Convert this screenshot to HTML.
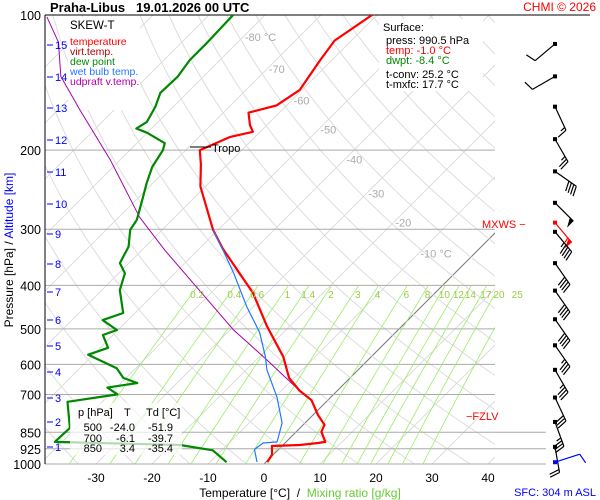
<!DOCTYPE html>
<html><head><meta charset="utf-8"><style>
html,body{margin:0;padding:0;background:#fff}
svg{display:block;font-family:"Liberation Sans",sans-serif}
</style></head><body>
<svg id="c" width="600" height="500" viewBox="0 0 600 500" xmlns="http://www.w3.org/2000/svg">
<defs><clipPath id="plot"><rect x="45" y="15" width="450" height="449"/></clipPath></defs>
<rect width="600" height="500" fill="#fff"/>
<g id="bg" clip-path="url(#plot)"></g>
<g id="iso"></g>
<g id="mix" clip-path="url(#plot)"></g>
<rect x="68" y="17" width="72" height="93" fill="#fff"/>
<g id="series" clip-path="url(#plot)"></g>
<g id="labels"></g>
<g id="barbs"></g>

<text x="50" y="12" font-size="13" font-weight="bold">Praha-Libus &#160;&#160;19.01.2026 00 UTC</text>
<text x="596" y="11" font-size="12" fill="#f00" text-anchor="end">CHMI © 2026</text>

<g font-size="10.5">
<text x="70" y="29" font-size="11.5" fill="#000">SKEW-T</text>
<text x="70" y="45" fill="#f00">temperature</text>
<text x="70" y="55" fill="#a00">virt.temp.</text>
<text x="70" y="65" fill="#080">dew point</text>
<text x="70" y="75" fill="#27f">wet bulb temp.</text>
<text x="70" y="85" fill="#a0a">udpraft v.temp.</text>
</g>

<rect x="379" y="19" width="104" height="72" fill="#fff"/>
<g font-size="11">
<text x="383" y="31">Surface:</text>
<text x="386" y="44">press: 990.5 hPa</text>
<text x="386" y="54" fill="#f00">temp: -1.0 °C</text>
<text x="386" y="64" fill="#080">dwpt: -8.4 °C</text>
<text x="386" y="78">t-conv: 25.2 °C</text>
<text x="386" y="88">t-mxfc: 17.7 °C</text>
</g>

<line x1="190" y1="147" x2="211" y2="147" stroke="#000" stroke-width="1"/>
<text x="212" y="152" font-size="11">Tropo</text>
<text x="482" y="228" font-size="11" fill="#f00">MXWS −</text>
<text x="466" y="420" font-size="11" fill="#f00">−FZLV</text>
<text x="596" y="496" font-size="11" fill="#00f" text-anchor="end">SFC: 304 m ASL</text>

<text transform="translate(13,250) rotate(-90)" font-size="12" text-anchor="middle">Pressure [hPa] <tspan>/</tspan> <tspan fill="#00f">Altitude [km]</tspan></text>
<text x="300" y="497" font-size="12" text-anchor="middle">Temperature [°C] &#160;/ &#160;<tspan fill="#6c3">Mixing ratio [g/kg]</tspan></text>
<g id="tblwrap"></g>
</svg>
<script>
// ---- data ----
const tempP = [990,954,912,907,898,893,848,818,778,721,686,643,577,495,416,331,301,241,215,200,187,182,176,165,159,147,126,114,100];
const tempT = [0.2,-0.2,-1.8,3.0,5.9,7.0,4.5,3.8,0.9,-2.9,-6.8,-10.9,-15.7,-23.9,-32.5,-45.9,-50.9,-60.9,-64.8,-67.5,-64.5,-61.3,-63,-65.5,-61.8,-60.4,-62.1,-63,-60.9];
const dewP = [991,932,907,893,831,727,700,676,660,643,612,571,551,516,503,478,461,410,376,357,328,301,286,254,237,218,200,193,183,179,173,160,149,137,126,115,100];
const dewT = [-7.0,-11.6,-18.4,-41.3,-41.1,-46.2,-38.6,-41.6,-37.1,-40.5,-43.4,-50.9,-48.6,-51.8,-50.2,-54.5,-52.1,-56.8,-58.9,-61.6,-63.0,-65.7,-66.3,-69.3,-71.1,-73.0,-74.1,-75,-80,-82.7,-82,-83.2,-84.8,-84.6,-85.4,-85.4,-85.7];
const wetP = [990,928,898,893,810,710,617,577,509,447,375,334,301];
const wetT = [-1.6,-4.3,-3.9,-1.6,-4.1,-9.6,-16.3,-18.9,-24.3,-31.1,-39.6,-45.5,-50.9];
const parcelP = [686,587,502,334,282,210,163,137,115,101];
const parcelT = [-6.8,-18.0,-29.5,-55.9,-66.3,-81.8,-96,-105.5,-112,-118.6];
const pressTicks = [100,200,300,400,500,600,700,850,925,1000];
const tempTicks = [-30,-20,-10,0,10,20,30,40];
const altTicks = [1,2,3,4,5,6,7,8,9,10,11,12,13,14,15];
const altY = [447,422,398,372,346,320,292,264,234,204,172,140,108,77,45];
const mixVals = [0.2,0.4,0.6,1,1.4,2,3,4,6,8,10,12,14,17,20,25];
const barbP = [116,137,160,189,223,262,290,304,357,411,476,544,617,711,806,916,991];
const barbDir = [230,240,155,150,125,135,140,140,145,145,145,145,150,155,160,170,72];
const barbSpd = [10,10,15,25,40,50,55,45,40,40,40,35,35,30,35,20,10];

// ---- scales ----
const NS="http://www.w3.org/2000/svg";
const Y = p => 15 + 449*Math.log10(p/100);
const X = (T,p) => 264 + 5.6*T + (464 - Y(p));
function mk(tag, attrs, parent){const e=document.createElementNS(NS,tag);for(const k in attrs)e.setAttribute(k,attrs[k]);parent.appendChild(e);return e;}
const bg=document.getElementById('bg'), iso=document.getElementById('iso'), mix=document.getElementById('mix'), ser=document.getElementById('series'), lab=document.getElementById('labels'), bar=document.getElementById('barbs');

for(let T=-160;T<=40;T+=10){
  const l=mk('line',{x1:X(T,1000),y1:Y(1000),x2:X(T,100),y2:Y(100),stroke:T===0?'#777':'#ddd','stroke-width':1},bg);
  
  
}
for(let th=230;th<=500;th+=10){
  let pts=[];for(let p=100;p<=1000;p+=10){const T=th*Math.pow(p/1000,0.286)-273.15;pts.push(X(T,p).toFixed(1)+','+Y(p).toFixed(1));}
  const l=mk('polyline',{points:pts.join(' '),fill:'none',stroke:'#ddd','stroke-width':1},bg);
  
  
}
function tdFromW(w,p){const e=w*p/(622+w);const a=Math.log(e/6.112);return 243.5*a/(17.67-a);}
mixVals.forEach(w=>{
  let pts=[];for(let p=400;p<=1000;p+=20){pts.push(X(tdFromW(w,p),p).toFixed(1)+','+Y(p).toFixed(1));}
  const l=mk('polyline',{points:pts.join(' '),fill:'none',stroke:'#9e6','stroke-width':0.8},mix);
  
  
  const t=mk('text',{x:X(tdFromW(w,400),400)-1,y:298,'font-size':10,fill:'#9c4','text-anchor':'middle'},lab);
  t.textContent=String(w);
  
  
});
pressTicks.forEach(p=>{
  const wide=p>=850;
  const l=mk('line',{x1:45,y1:Y(p),x2:wide?546:495,y2:Y(p),stroke:p===100?'#000':'#aaa','stroke-width':1},iso);
  
  
  const t=mk('text',{x:41,y:Y(p)+5,'font-size':12.5,'text-anchor':'end'},lab);
  t.textContent=p;
  
  
});
mk('line',{x1:45,y1:15,x2:590,y2:15,stroke:'#000'},iso);
const ax=mk('line',{x1:45,y1:15,x2:45,y2:464,stroke:'#000'},iso);


tempTicks.forEach(T=>{
  const t=mk('text',{x:X(T,1000),y:482,'font-size':12,'text-anchor':'middle'},lab);
  t.textContent=T;
  
  
});
[-80,-70,-60,-50,-40,-30,-20,-10].forEach((T,i)=>{
  const p=[112,132,155,180,210,250,290,340][i];
  const t=mk('text',{x:X(T,p)+2,y:Y(p)+4,'font-size':11,fill:'#aaa'},lab);
  t.textContent=(T===-80||T===-10)?T+' °C':String(T);
  
  
});
altTicks.forEach((a,i)=>{
  mk('line',{x1:47,y1:altY[i],x2:53,y2:altY[i],stroke:'#00f'},lab);
  const t=mk('text',{x:55,y:altY[i]+4,'font-size':11,fill:'#00f'},lab);
  t.textContent=a;
  
  
});
function line(P,T,color,w,name){
  const pts=P.map((p,i)=>X(T[i],p).toFixed(1)+','+Y(p).toFixed(1)).join(' ');
  const l=mk('polyline',{points:pts,fill:'none',stroke:color,'stroke-width':w,'stroke-linejoin':'round'},ser);
  
  
}
line(parcelP,parcelT,'#a0a',1,'updraft-line');
line(dewP,dewT,'#080',2.2,'dew-point-line');
line(tempP,tempT,'#f00',2.2,'temperature-line');
line(wetP,wetT,'#27f',1.2,'wet-bulb-line');

const tw=document.getElementById('tblwrap');


tw.innerHTML='<rect x="70" y="403" width="112" height="52" fill="#fff" fill-opacity="0.7"/>'+
'<g font-size="11"><text x="78" y="416">p [hPa]<tspan x="124">T</tspan><tspan x="146">Td [°C]</tspan></text>'+
'<g text-anchor="end"><text x="102" y="431">500</text><text x="135" y="431">-24.0</text><text x="173" y="431">-51.9</text>'+
'<text x="102" y="442">700</text><text x="135" y="442">-6.1</text><text x="173" y="442">-39.7</text>'+
'<text x="102" y="452">850</text><text x="135" y="452">3.4</text><text x="173" y="452">-35.4</text></g></g>';

barbP.forEach((p,i)=>{
  const y0=Y(p),x0=555,red=(i===6),blue=(i===barbP.length-1);
  const col=red?'#f00':(blue?'#00f':'#000');
  const a=barbDir[i]*Math.PI/180, L=26;
  const dx=Math.sin(a),dy=-Math.cos(a);
  const x1=x0+L*dx,y1=y0+L*dy;
  const g=mk('g',{},bar);
  
  
  mk('rect',{x:x0-2,y:y0-2,width:4,height:4,fill:col},g);
  mk('line',{x1:x0,y1:y0,x2:x1,y2:y1,stroke:col,'stroke-width':1.2},g);
  let s=barbSpd[i],pos=0;
  const px=-dy,py=dx;
  while(s>=50){const bx=x1-pos*dx,by=y1-pos*dy;
    mk('polygon',{points:`${bx},${by} ${bx+9*px},${by+9*py} ${bx-5*dx},${by-5*dy}`,fill:col},g);pos+=6;s-=50;}
  while(s>=10){const bx=x1-pos*dx,by=y1-pos*dy;
    mk('line',{x1:bx,y1:by,x2:bx+10*px+3*dx,y2:by+10*py+3*dy,stroke:col,'stroke-width':1.2},g);pos+=3;s-=10;}
  if(s>=5){const bx=x1-pos*dx,by=y1-pos*dy;
    mk('line',{x1:bx,y1:by,x2:bx+5*px+1.5*dx,y2:by+5*py+1.5*dy,stroke:col,'stroke-width':1.2},g);}
});
</script>
</body></html>
